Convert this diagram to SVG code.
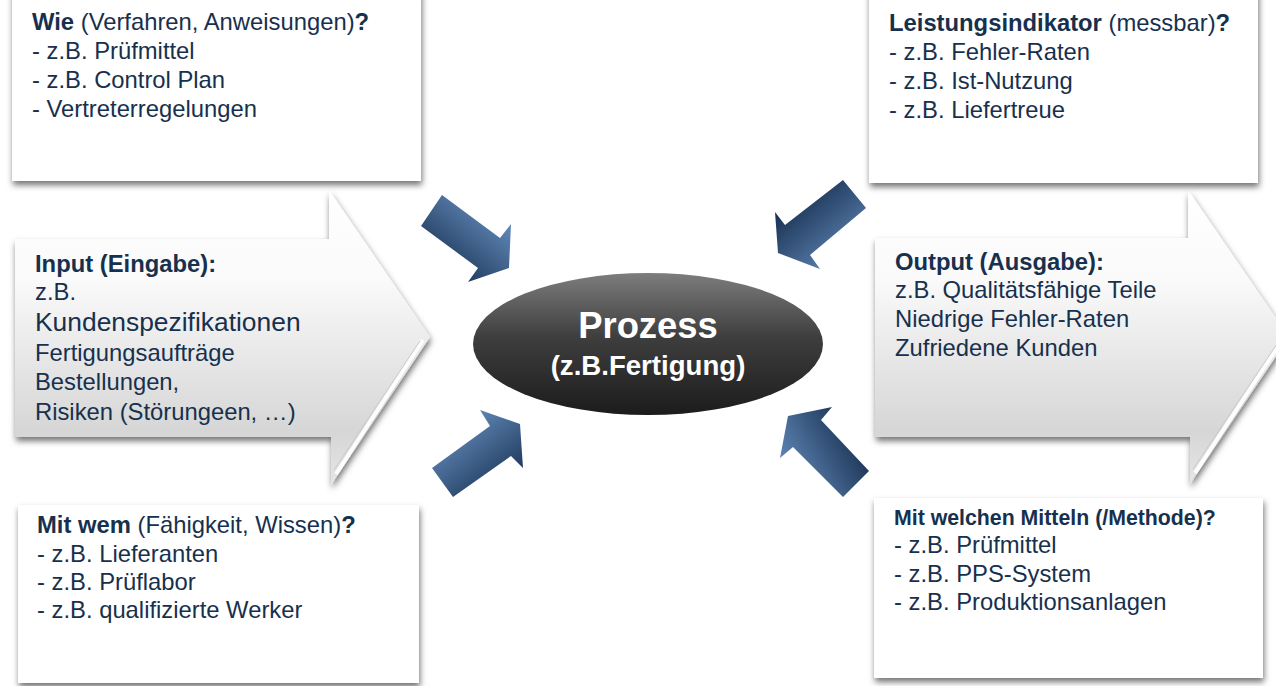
<svg xmlns="http://www.w3.org/2000/svg" width="1276" height="686" viewBox="0 0 1276 686">
  <defs>
    <style>
      .txt { font-family: "Liberation Sans", Arial, sans-serif; font-size: 23.8px; fill: #17304d; }
      .b { font-weight: bold; }
      .box { fill: #ffffff; filter: url(#shadow); }
      .big { fill: url(#bigGrad); filter: url(#shadow); }
      .bevel { fill: none; stroke: #ffffff; stroke-width: 4; opacity: 0.95; }
      .bevel2 { fill: none; stroke: #c9c9c9; stroke-width: 1; }
      .ptxt { font-family: "Liberation Sans", Arial, sans-serif; font-weight: bold; fill: #ffffff; text-anchor: middle; }
    </style>
    <filter id="shadow" x="-10%" y="-10%" width="125%" height="130%">
      <feDropShadow dx="1" dy="4" stdDeviation="3" flood-color="#000000" flood-opacity="0.55"/>
    </filter>
    <linearGradient id="bigGrad" x1="0" y1="0" x2="0" y2="1">
      <stop offset="0" stop-color="#ffffff"/>
      <stop offset="0.3" stop-color="#fafafa"/>
      <stop offset="0.82" stop-color="#d6d6d6"/>
      <stop offset="1" stop-color="#e6e6e6"/>
    </linearGradient>
    <linearGradient id="ellGrad" x1="0" y1="0" x2="0" y2="1">
      <stop offset="0" stop-color="#7d7d7d"/>
      <stop offset="0.45" stop-color="#3e3e3e"/>
      <stop offset="1" stop-color="#1c1c1c"/>
    </linearGradient>
    <linearGradient id="gTL" x1="0.9" y1="0.25" x2="0.3" y2="0.95">
      <stop offset="0" stop-color="#6189b9"/>
      <stop offset="1" stop-color="#1b3455"/>
    </linearGradient>
    <linearGradient id="gTR" x1="0.8" y1="0.95" x2="0.2" y2="0.25">
      <stop offset="0" stop-color="#6189b9"/>
      <stop offset="1" stop-color="#1b3455"/>
    </linearGradient>
    <linearGradient id="gBL" x1="0.25" y1="0.15" x2="0.85" y2="0.9">
      <stop offset="0" stop-color="#6189b9"/>
      <stop offset="1" stop-color="#1b3455"/>
    </linearGradient>
    <linearGradient id="gBR" x1="0.05" y1="0.75" x2="0.85" y2="0.3">
      <stop offset="0" stop-color="#6189b9"/>
      <stop offset="1" stop-color="#1b3455"/>
    </linearGradient>
  </defs>

  <rect x="0" y="0" width="1276" height="686" fill="#ffffff"/>

  <!-- Input arrow -->
  <g id="node-input">
    <polygon class="big" points="15,239 329,239 329,190 430,337 331,485 331,437 15,437"/>
    <polyline class="bevel" points="336,474 423,340"/>
    <polyline class="bevel2" points="334,470 420,341"/>
    <text class="txt" x="35" y="272"><tspan class="b">Input (Eingabe):</tspan></text>
    <text class="txt" x="35" y="300">z.B.</text>
    <text class="txt" x="35" y="331" style="font-size:26.4px">Kundenspezifikationen</text>
    <text class="txt" x="35" y="361">Fertigungsaufträge</text>
    <text class="txt" x="35" y="390">Bestellungen,</text>
    <text class="txt" x="35" y="420">Risiken (Störungeen, …)</text>
  </g>

  <!-- Output arrow -->
  <g id="node-output">
    <polygon class="big" points="875,238 1188,238 1188,190 1289,337 1190,484 1190,437 875,437"/>
    <polyline class="bevel" points="1195,473 1282,340"/>
    <polyline class="bevel2" points="1193,469 1279,341"/>
    <text class="txt" x="895" y="270"><tspan class="b">Output (Ausgabe):</tspan></text>
    <text class="txt" x="895" y="298">z.B. Qualitätsfähige Teile</text>
    <text class="txt" x="895" y="327">Niedrige Fehler-Raten</text>
    <text class="txt" x="895" y="356">Zufriedene Kunden</text>
  </g>

  <!-- Top-left box -->
  <g id="node-wie">
    <rect class="box" x="12" y="-10" width="409" height="191"/>
    <text class="txt" x="32" y="30"><tspan class="b">Wie</tspan> (Verfahren, Anweisungen)<tspan class="b">?</tspan></text>
    <text class="txt" x="32" y="59">- z.B. Prüfmittel</text>
    <text class="txt" x="32" y="88">- z.B. Control Plan</text>
    <text class="txt" x="32" y="117">- Vertreterregelungen</text>
  </g>

  <!-- Top-right box -->
  <g id="node-leistung">
    <rect class="box" x="869" y="-10" width="389" height="193"/>
    <text class="txt" x="889" y="31"><tspan class="b">Leistungsindikator</tspan> (messbar)<tspan class="b">?</tspan></text>
    <text class="txt" x="889" y="60">- z.B. Fehler-Raten</text>
    <text class="txt" x="889" y="89">- z.B. Ist-Nutzung</text>
    <text class="txt" x="889" y="118">- z.B. Liefertreue</text>
  </g>

  <!-- Bottom-left box -->
  <g id="node-mitwem">
    <rect class="box" x="18" y="505" width="401" height="178"/>
    <text class="txt" x="37" y="533"><tspan class="b">Mit wem</tspan> (Fähigkeit, Wissen)<tspan class="b">?</tspan></text>
    <text class="txt" x="37" y="562">- z.B. Lieferanten</text>
    <text class="txt" x="37" y="590">- z.B. Prüflabor</text>
    <text class="txt" x="37" y="618">- z.B. qualifizierte Werker</text>
  </g>

  <!-- Bottom-right box -->
  <g id="node-mittel">
    <rect class="box" x="874" y="498" width="389" height="180"/>
    <text class="txt b" x="894" y="525" style="font-size:21.3px">Mit welchen Mitteln (/Methode)?</text>
    <text class="txt" x="894" y="553">- z.B. Prüfmittel</text>
    <text class="txt" x="894" y="582">- z.B. PPS-System</text>
    <text class="txt" x="894" y="610">- z.B. Produktionsanlagen</text>
  </g>

  <!-- Process ellipse -->
  <g id="node-prozess">
    <ellipse cx="648" cy="344" rx="175" ry="71" fill="url(#ellGrad)"/>
    <text class="ptxt" x="648" y="338" style="font-size:36.4px">Prozess</text>
    <text class="ptxt" x="648" y="375" style="font-size:27.6px">(z.B.Fertigung)</text>
  </g>

  <!-- Connectors: blue block arrows -->
  <g id="connectors">
    <polygon fill="url(#gTL)" points="442,195 500,238 511,224 509,268 468,282 478,268 421,226"/>
    <polygon fill="url(#gTR)" points="843,180 866,208 810,255 820,269 778,253 775,212 785,225"/>
    <polygon fill="url(#gBL)" points="432,468 490,426 480,410 520,424 523,468 511,456 453,497"/>
    <polygon fill="url(#gBR)" points="869,471 843,497 793,447 780,458 788,416 832,407 821,420"/>
  </g>
</svg>
